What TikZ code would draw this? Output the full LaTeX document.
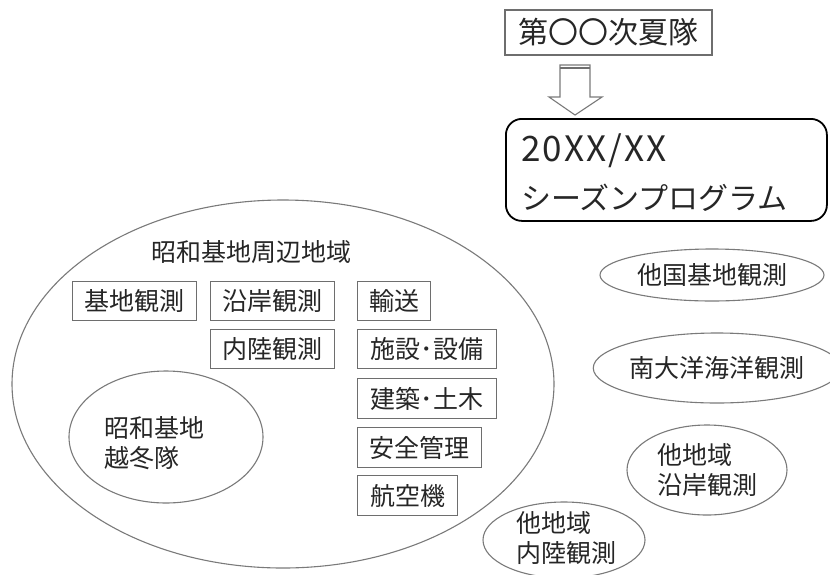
\documentclass[tikz,border=0pt]{standalone}
\usepackage{fontspec}
\setmainfont{Noto Sans CJK JP}
\usetikzlibrary{shapes.geometric}
\definecolor{boxgray}{HTML}{6E6E6E}
\definecolor{linegray}{HTML}{7A7A7A}
\definecolor{txt}{HTML}{262626}
\begin{document}
\begin{tikzpicture}[x=1pt,y=-1pt,
  every node/.style={text=txt, inner sep=0pt},
  jpbox/.style={draw=boxgray, line width=1.3pt, minimum height=39pt, anchor=north west,
    font=\fontsize{25}{30}\selectfont},
  oval/.style={draw=linegray, line width=1.1pt, ellipse, inner sep=0pt},
  jptext/.style={font=\fontsize{25}{30}\selectfont, align=left}
]
\useasboundingbox (0,0) rectangle (830,574);
\fill[white] (0,0) rectangle (830,574);

% title and program
\node[draw=boxgray, line width=1.3pt, minimum width=207pt, minimum height=45pt,
      font=\fontsize{30}{34}\selectfont] (summer) at (608.5,32.5) {第〇〇次夏隊};
\node[draw=black, line width=1.8pt, rounded corners=16pt, minimum width=321pt,
      minimum height=102pt, anchor=north west] (prog) at (505,118) {};
\node[anchor=base west, font=\fontsize{35}{40}\selectfont\addfontfeatures{LetterSpace=6}] (year) at (521,161) {20XX/XX};
\node[anchor=west, font=\fontsize{30}{34}\selectfont] (season) at (521,198) {シーズンプログラム};

% hollow block arrow
\draw[draw=linegray, line width=1.1pt, fill=white, line join=miter]
  (560,65) -- (590,65) -- (590,97) -- (602,97) -- (575,115) -- (549,97) -- (560,97) -- cycle;
\draw[draw=boxgray, line width=1.1pt] (560,68) -- (590,68);

% big region
\node[oval, minimum width=542pt, minimum height=368pt] (region) at (283,384) {};
\node[jptext] (regionlabel) at (251,252) {昭和基地周辺地域};

\node[jpbox, minimum width=124pt] (kichi) at (72,281) {基地観測};
\node[jpbox, minimum width=124pt] (engan) at (210,281) {沿岸観測};
\node[jpbox, minimum width=73pt] (yuso) at (357,281) {輸送};
\node[jpbox, minimum width=124pt] (nairiku) at (210,329) {内陸観測};
\node[jpbox, minimum width=139pt] (shisetsu) at (357,329) {施設･設備};
\node[jpbox, minimum width=139pt, minimum height=40pt] (kenchiku) at (357,378) {建築･土木};
\node[jpbox, minimum width=124pt, minimum height=40pt] (anzen) at (357,427) {安全管理};
\node[jpbox, minimum width=100pt, minimum height=40pt] (koku) at (357,475) {航空機};

\node[oval, minimum width=194pt, minimum height=132pt] (winter) at (166,437) {};
\node[jptext] (wintertext) at (154.5,443) {昭和基地\\越冬隊};

% other observations
\node[oval, minimum width=224pt, minimum height=52pt, jptext] (takoku) at (712,275) {他国基地観測};
\node[oval, minimum width=220pt, minimum height=70pt, jptext] (nantai) at (717,368) {南大洋海洋観測};
\node[oval, minimum width=160pt, minimum height=90pt, jptext] (engan2) at (707,470) {他地域\\沿岸観測};
\node[oval, minimum width=162pt, minimum height=76pt] (nairiku2) at (564,540) {};
\node[jptext] (nairiku2text) at (566,538) {他地域\\内陸観測};
\end{tikzpicture}
\end{document}
